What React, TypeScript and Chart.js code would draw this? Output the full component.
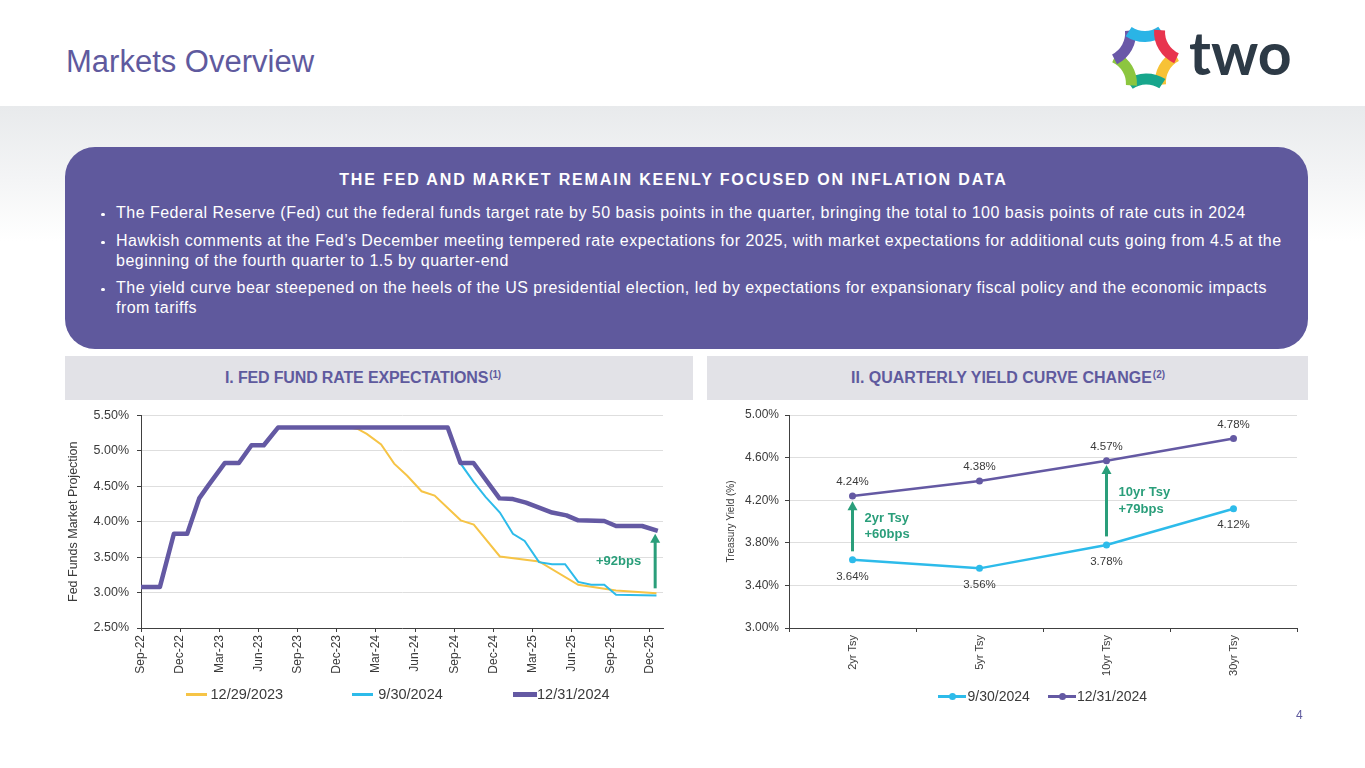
import React, { useEffect, useRef } from 'react';
import { Chart, registerables } from 'chart.js';

Chart.register(...registerables);

// ---------- DATA ----------
// Left chart: x = months since Sep-22 (fractional, FOMC-style points)
const quarterLabels = ['Sep-22', 'Dec-22', 'Mar-23', 'Jun-23', 'Sep-23', 'Dec-23', 'Mar-24', 'Jun-24', 'Sep-24', 'Dec-24', 'Mar-25', 'Jun-25', 'Sep-25', 'Dec-25'];
const quarterTickMonths = [0, 3, 6, 9, 12, 15, 18, 21, 24, 27, 30, 33, 36, 39];
const fedRateTicks = [2.5, 3.0, 3.5, 4.0, 4.5, 5.0, 5.5];

const dec2023Months = [14, 16, 16.6, 17.3, 18.4, 19.4, 20.4, 21.5, 22.5, 24.5, 25.5, 27.5, 30.5, 33.5, 36.4, 39.5];
const dec2023Rates = [5.33, 5.33, 5.31, 5.24, 5.09, 4.82, 4.65, 4.43, 4.37, 4.02, 3.96, 3.51, 3.44, 3.11, 3.03, 2.99];

const sep2024Months = [23.5, 24.5, 25.5, 26.4, 27.5, 28.5, 29.4, 30.5, 31.5, 32.5, 33.5, 34.5, 35.5, 36.4, 39.5];
const sep2024Rates = [5.33, 4.82, 4.56, 4.35, 4.13, 3.83, 3.73, 3.43, 3.4, 3.4, 3.15, 3.11, 3.11, 2.97, 2.96];

const dec2024Months = [0, 1.45, 2.52, 3.54, 4.46, 5.15, 6.43, 7.5, 8.47, 9.41, 10.5, 23.5, 24.48, 25.48, 27.47, 28.5, 29.5, 30.5, 31.5, 32.6, 33.5, 35.5, 36.4, 38.4, 39.6];
const dec2024Rates = [3.08, 3.08, 3.83, 3.83, 4.33, 4.51, 4.83, 4.83, 5.08, 5.08, 5.33, 5.33, 4.83, 4.83, 4.33, 4.32, 4.27, 4.2, 4.13, 4.09, 4.02, 4.01, 3.94, 3.94, 3.87];

const fedSeriesNames = ['12/29/2023', '9/30/2024', '12/31/2024'];
const fedArrows = [{ at: 39.4, from: 3.06, to: 3.83, text: ['+92bps'], side: 'left' }];

// Right chart
const tenorLabels = ['2yr Tsy', '5yr Tsy', '10yr Tsy', '30yr Tsy'];
const yieldsSep2024 = [3.64, 3.56, 3.78, 4.12];
const yieldsDec2024 = [4.24, 4.38, 4.57, 4.78];
const yieldSeriesNames = ['9/30/2024', '12/31/2024'];
const yieldTicks = [3.0, 3.4, 3.8, 4.2, 4.6, 5.0];
const yieldArrows = [
  { at: 0, from: 3.72, to: 4.19, text: ['2yr Tsy', '+60bps'], side: 'right' },
  { at: 2, from: 3.86, to: 4.53, text: ['10yr Tsy', '+79bps'], side: 'right' },
];

// ---------- STYLE ----------
const FONT = '"Liberation Sans", Arial, Helvetica, sans-serif';
const PURPLE = '#5F5A9E';
const LINE_PURPLE = '#6459A3';
const LINE_BLUE = '#2DBBEA';
const LINE_YELLOW = '#F6C446';
const GREEN = '#2A9E7A';
const AXIS = '#404040';
const GRID = '#dedede';
const TEXT = '#3a3a3a';

const arrowPlugin = {
  id: 'arrows',
  afterDatasetsDraw(chart: any, _args: any, opts: any) {
    const { ctx } = chart;
    const xs = chart.scales.x;
    const ys = chart.scales.y;
    (opts.items || []).forEach((a: any) => {
      const px = xs.getPixelForValue(a.at);
      const yb = ys.getPixelForValue(a.from);
      const yt = ys.getPixelForValue(a.to);
      ctx.save();
      ctx.strokeStyle = GREEN;
      ctx.fillStyle = GREEN;
      ctx.lineWidth = 3;
      ctx.beginPath();
      ctx.moveTo(px, yb);
      ctx.lineTo(px, yt + 8);
      ctx.stroke();
      ctx.beginPath();
      ctx.moveTo(px, yt);
      ctx.lineTo(px - 5, yt + 9);
      ctx.lineTo(px + 5, yt + 9);
      ctx.closePath();
      ctx.fill();
      ctx.font = `bold 13px ${FONT}`;
      ctx.textBaseline = 'middle';
      ctx.textAlign = a.side === 'left' ? 'right' : 'left';
      const tx = px + (a.side === 'left' ? -14 : 12);
      const mid = (yb + yt) / 2;
      const lh = 16.5;
      a.text.forEach((t: string, i: number) => {
        ctx.fillText(t, tx, mid + (i - (a.text.length - 1) / 2) * lh);
      });
      ctx.restore();
    });
  },
};

const valueLabelPlugin = {
  id: 'valueLabels',
  afterDatasetsDraw(chart: any, _args: any, opts: any) {
    const { ctx } = chart;
    ctx.save();
    ctx.font = `11.5px ${FONT}`;
    ctx.fillStyle = TEXT;
    ctx.textAlign = 'center';
    ctx.textBaseline = 'middle';
    chart.data.datasets.forEach((ds: any, di: number) => {
      const meta = chart.getDatasetMeta(di);
      const place = (opts.placement || [])[di];
      meta.data.forEach((pt: any, i: number) => {
        const v = ds.data[i];
        const dy = place === 'above' ? -14 : 16.5;
        ctx.fillText(v.toFixed(2) + '%', pt.x, pt.y + dy);
      });
    });
    ctx.restore();
  },
};

const toPoints = (ms: number[], vs: number[]) => ms.map((m, i) => ({ x: m, y: vs[i] }));

function FedChart() {
  const ref = useRef<HTMLCanvasElement | null>(null);
  useEffect(() => {
    if (!ref.current) return;
    const chart = new Chart(ref.current, {
      type: 'line',
      data: {
        datasets: [
          { label: fedSeriesNames[0], data: toPoints(dec2023Months, dec2023Rates), borderColor: LINE_YELLOW, backgroundColor: LINE_YELLOW, borderWidth: 2, pointRadius: 0, tension: 0, order: 2 },
          { label: fedSeriesNames[1], data: toPoints(sep2024Months, sep2024Rates), borderColor: LINE_BLUE, backgroundColor: LINE_BLUE, borderWidth: 2, pointRadius: 0, tension: 0, order: 1 },
          { label: fedSeriesNames[2], data: toPoints(dec2024Months, dec2024Rates), borderColor: LINE_PURPLE, backgroundColor: LINE_PURPLE, borderWidth: 4.5, pointRadius: 0, tension: 0, order: 0, borderJoinStyle: 'round' },
        ],
      } as any,
      options: {
        responsive: true,
        maintainAspectRatio: false,
        animation: false,
        layout: { padding: { top: 14, right: 37, left: 0, bottom: 0 } },
        plugins: {
          legend: { display: false },
          tooltip: { enabled: false },
          arrows: { items: fedArrows },
        } as any,
        scales: {
          x: {
            type: 'linear',
            min: 0,
            max: 40,
            afterBuildTicks: (s: any) => { s.ticks = quarterTickMonths.map((v) => ({ value: v })); },
            afterFit: (s: any) => { s.height = 62; },
            ticks: {
              callback: (_v: any, i: number) => quarterLabels[i],
              minRotation: 90,
              maxRotation: 90,
              autoSkip: false,
              padding: 3,
              color: TEXT,
              font: { size: 12, family: FONT },
            },
            grid: { drawOnChartArea: false, tickLength: 4, tickColor: AXIS },
            border: { color: AXIS },
          },
          y: {
            min: 2.5,
            max: 5.5,
            afterBuildTicks: (s: any) => { s.ticks = fedRateTicks.map((v) => ({ value: v })); },
            afterFit: (s: any) => { s.width = 81; },
            ticks: {
              callback: (v: any) => Number(v).toFixed(2) + '%',
              padding: 8,
              color: TEXT,
              font: { size: 12.5, family: FONT },
            },
            grid: { color: GRID, tickColor: AXIS, tickLength: 4 },
            border: { color: AXIS },
            title: {
              display: true,
              text: 'Fed Funds Market Projection',
              color: TEXT,
              font: { size: 12.5, family: FONT },
              padding: { top: 6, bottom: 0 },
            },
          },
        },
      } as any,
      plugins: [arrowPlugin],
    });
    return () => chart.destroy();
  }, []);
  return <canvas ref={ref} />;
}

function YieldChart() {
  const ref = useRef<HTMLCanvasElement | null>(null);
  useEffect(() => {
    if (!ref.current) return;
    const chart = new Chart(ref.current, {
      type: 'line',
      data: {
        labels: tenorLabels,
        datasets: [
          { label: yieldSeriesNames[0], data: yieldsSep2024, borderColor: LINE_BLUE, backgroundColor: LINE_BLUE, pointBackgroundColor: LINE_BLUE, borderWidth: 2.5, pointRadius: 3.5, pointBorderWidth: 0, tension: 0 },
          { label: yieldSeriesNames[1], data: yieldsDec2024, borderColor: LINE_PURPLE, backgroundColor: LINE_PURPLE, pointBackgroundColor: LINE_PURPLE, borderWidth: 2.5, pointRadius: 3.5, pointBorderWidth: 0, tension: 0 },
        ],
      },
      options: {
        responsive: true,
        maintainAspectRatio: false,
        animation: false,
        layout: { padding: { top: 15, right: 13, left: 0, bottom: 0 } },
        plugins: {
          legend: { display: false },
          tooltip: { enabled: false },
          arrows: { items: yieldArrows },
          valueLabels: { placement: ['below', 'above'] },
        } as any,
        scales: {
          x: {
            type: 'category',
            offset: true,
            afterFit: (s: any) => { s.height = 62; },
            ticks: {
              minRotation: 90,
              maxRotation: 90,
              autoSkip: false,
              padding: 3,
              color: TEXT,
              font: { size: 11, family: FONT },
            },
            grid: { offset: true, drawOnChartArea: false, tickLength: 4, tickColor: AXIS },
            border: { color: AXIS },
          },
          y: {
            min: 3,
            max: 5,
            afterBuildTicks: (s: any) => { s.ticks = yieldTicks.map((v) => ({ value: v })); },
            afterFit: (s: any) => { s.width = 79; },
            ticks: {
              callback: (v: any) => Number(v).toFixed(2) + '%',
              padding: 6,
              color: TEXT,
              font: { size: 12, family: FONT },
            },
            grid: { color: GRID, tickColor: AXIS, tickLength: 4 },
            border: { color: AXIS },
            title: {
              display: true,
              text: 'Treasury Yield (%)',
              color: TEXT,
              font: { size: 10, family: FONT },
              padding: { top: 15.5, bottom: 0 },
            },
          },
        },
      } as any,
      plugins: [arrowPlugin, valueLabelPlugin],
    });
    return () => chart.destroy();
  }, []);
  return <canvas ref={ref} />;
}

function Logo() {
  const cx = 37.5;
  const cy = 37.7;
  const R = 31;
  const colors = ['#F7C236', '#17A68C', '#8CC63F', '#6A58A8', '#2AB4E6', '#E8344E'];
  const v = (deg: number) => {
    const a = (deg * Math.PI) / 180;
    return [cx + R * Math.cos(a), cy + R * Math.sin(a)];
  };
  return (
    <svg width={76} height={76} style={{ position: 'absolute', left: 1108, top: 20 }}>
      {colors.map((c, i) => {
        const [x1, y1] = v(i * 60 - 3);
        const [x2, y2] = v(i * 60 + 61);
        return (
          <path key={i} d={`M ${x1} ${y1} A 29 29 0 0 0 ${x2} ${y2}`} stroke={c} strokeWidth={11} fill="none" strokeLinecap="butt" />
        );
      })}
    </svg>
  );
}

const abs = (s: React.CSSProperties): React.CSSProperties => ({ position: 'absolute', whiteSpace: 'nowrap', ...s });

export default function App() {
  const bulletStyle: React.CSSProperties = { fontSize: 16, lineHeight: '19.5px', color: '#ffffff', letterSpacing: '0.48px' };
  const dot = (top: number) => (
    <div style={abs({ left: 101, top, width: 3.5, height: 3.5, borderRadius: 2, background: '#ffffff' })} />
  );
  return (
    <div style={{ position: 'absolute', left: 0, top: 0, width: 1365, height: 768, background: '#ffffff', fontFamily: FONT, overflow: 'hidden' }}>
      {/* Title */}
      <div style={abs({ left: 66, top: 45.8, fontSize: 31, lineHeight: '31px', color: PURPLE })}>Markets Overview</div>
      {/* Logo */}
      <Logo />
      <div style={abs({ left: 1189, top: 22.7, fontSize: 59, lineHeight: '59px', fontFamily: 'Lato, "Liberation Sans", sans-serif', fontWeight: 700, color: '#2D3A46' })}>two</div>

      {/* Gray band */}
      <div style={abs({ left: 0, top: 106, width: 1365, height: 135, background: 'linear-gradient(to bottom, #e8eaec 0%, #f4f5f6 55%, #ffffff 100%)' })} />

      {/* Purple box */}
      <div style={abs({ left: 65, top: 147, width: 1243, height: 202, borderRadius: 30, background: '#5F599D' })} />
      <div style={abs({ left: 0, width: 1347, top: 171.5, fontSize: 16, lineHeight: '16px', fontWeight: 700, color: '#ffffff', textAlign: 'center', letterSpacing: '1.85px' })}>
        THE FED AND MARKET REMAIN KEENLY FOCUSED ON INFLATION DATA
      </div>
      {dot(212.5)}
      <div style={abs({ left: 116, top: 203.2, ...bulletStyle })}>
        The Federal Reserve (Fed) cut the federal funds target rate by 50 basis points in the quarter, bringing the total to 100 basis points of rate cuts in 2024
      </div>
      {dot(240.5)}
      <div style={abs({ left: 116, top: 231.2, ...bulletStyle })}>
        Hawkish comments at the Fed’s December meeting tempered rate expectations for 2025, with market expectations for additional cuts going from 4.5 at the
        <br />
        beginning of the fourth quarter to 1.5 by quarter-end
      </div>
      {dot(287.5)}
      <div style={abs({ left: 116, top: 278.2, ...bulletStyle })}>
        The yield curve bear steepened on the heels of the US presidential election, led by expectations for expansionary fiscal policy and the economic impacts
        <br />
        from tariffs
      </div>

      {/* Section headers */}
      <div style={abs({ left: 65, top: 356, width: 628, height: 44, background: '#E2E2E7' })} />
      <div style={abs({ left: 707, top: 356, width: 601, height: 44, background: '#E2E2E7' })} />
      <div style={abs({ left: 225, top: 369.8, fontSize: 16, lineHeight: '16px', fontWeight: 700, color: PURPLE, letterSpacing: '-0.15px' })}>
        I. FED FUND RATE EXPECTATIONS<sup style={{ fontSize: 10, verticalAlign: 'top', position: 'relative', top: -3, marginLeft: 1 }}>(1)</sup>
      </div>
      <div style={abs({ left: 851, top: 369.8, fontSize: 16, lineHeight: '16px', fontWeight: 700, color: PURPLE })}>
        II. QUARTERLY YIELD CURVE CHANGE<sup style={{ fontSize: 10, verticalAlign: 'top', position: 'relative', top: -3, marginLeft: 1 }}>(2)</sup>
      </div>

      {/* Left chart */}
      <div style={{ position: 'absolute', left: 60, top: 400, width: 640, height: 290 }}>
        <FedChart />
      </div>
      {/* Left legend */}
      <div style={abs({ left: 186, top: 693, width: 21, height: 2.5, background: LINE_YELLOW })} />
      <div style={abs({ left: 210.5, top: 686.7, fontSize: 14.5, lineHeight: '14.5px', color: TEXT })}>{fedSeriesNames[0]}</div>
      <div style={abs({ left: 352, top: 693, width: 21, height: 2.5, background: LINE_BLUE })} />
      <div style={abs({ left: 378.3, top: 686.7, fontSize: 14.5, lineHeight: '14.5px', color: TEXT })}>{fedSeriesNames[1]}</div>
      <div style={abs({ left: 513, top: 691.5, width: 24, height: 5, background: LINE_PURPLE })} />
      <div style={abs({ left: 537, top: 686.7, fontSize: 14.5, lineHeight: '14.5px', color: TEXT })}>{fedSeriesNames[2]}</div>

      {/* Right chart */}
      <div style={{ position: 'absolute', left: 710, top: 400, width: 600, height: 290 }}>
        <YieldChart />
      </div>
      {/* Right legend */}
      <div style={abs({ left: 938, top: 695, width: 28, height: 2.5, background: LINE_BLUE })} />
      <div style={abs({ left: 948.5, top: 692.7, width: 7, height: 7, borderRadius: 4, background: LINE_BLUE })} />
      <div style={abs({ left: 967.5, top: 689.2, fontSize: 14, lineHeight: '14px', color: TEXT })}>{yieldSeriesNames[0]}</div>
      <div style={abs({ left: 1048, top: 695, width: 28, height: 2.5, background: LINE_PURPLE })} />
      <div style={abs({ left: 1058.5, top: 692.7, width: 7, height: 7, borderRadius: 4, background: LINE_PURPLE })} />
      <div style={abs({ left: 1077, top: 689.2, fontSize: 14, lineHeight: '14px', color: TEXT })}>{yieldSeriesNames[1]}</div>

      {/* Page number */}
      <div style={abs({ left: 1296, top: 708.8, fontSize: 12, lineHeight: '12px', color: PURPLE })}>4</div>
    </div>
  );
}
